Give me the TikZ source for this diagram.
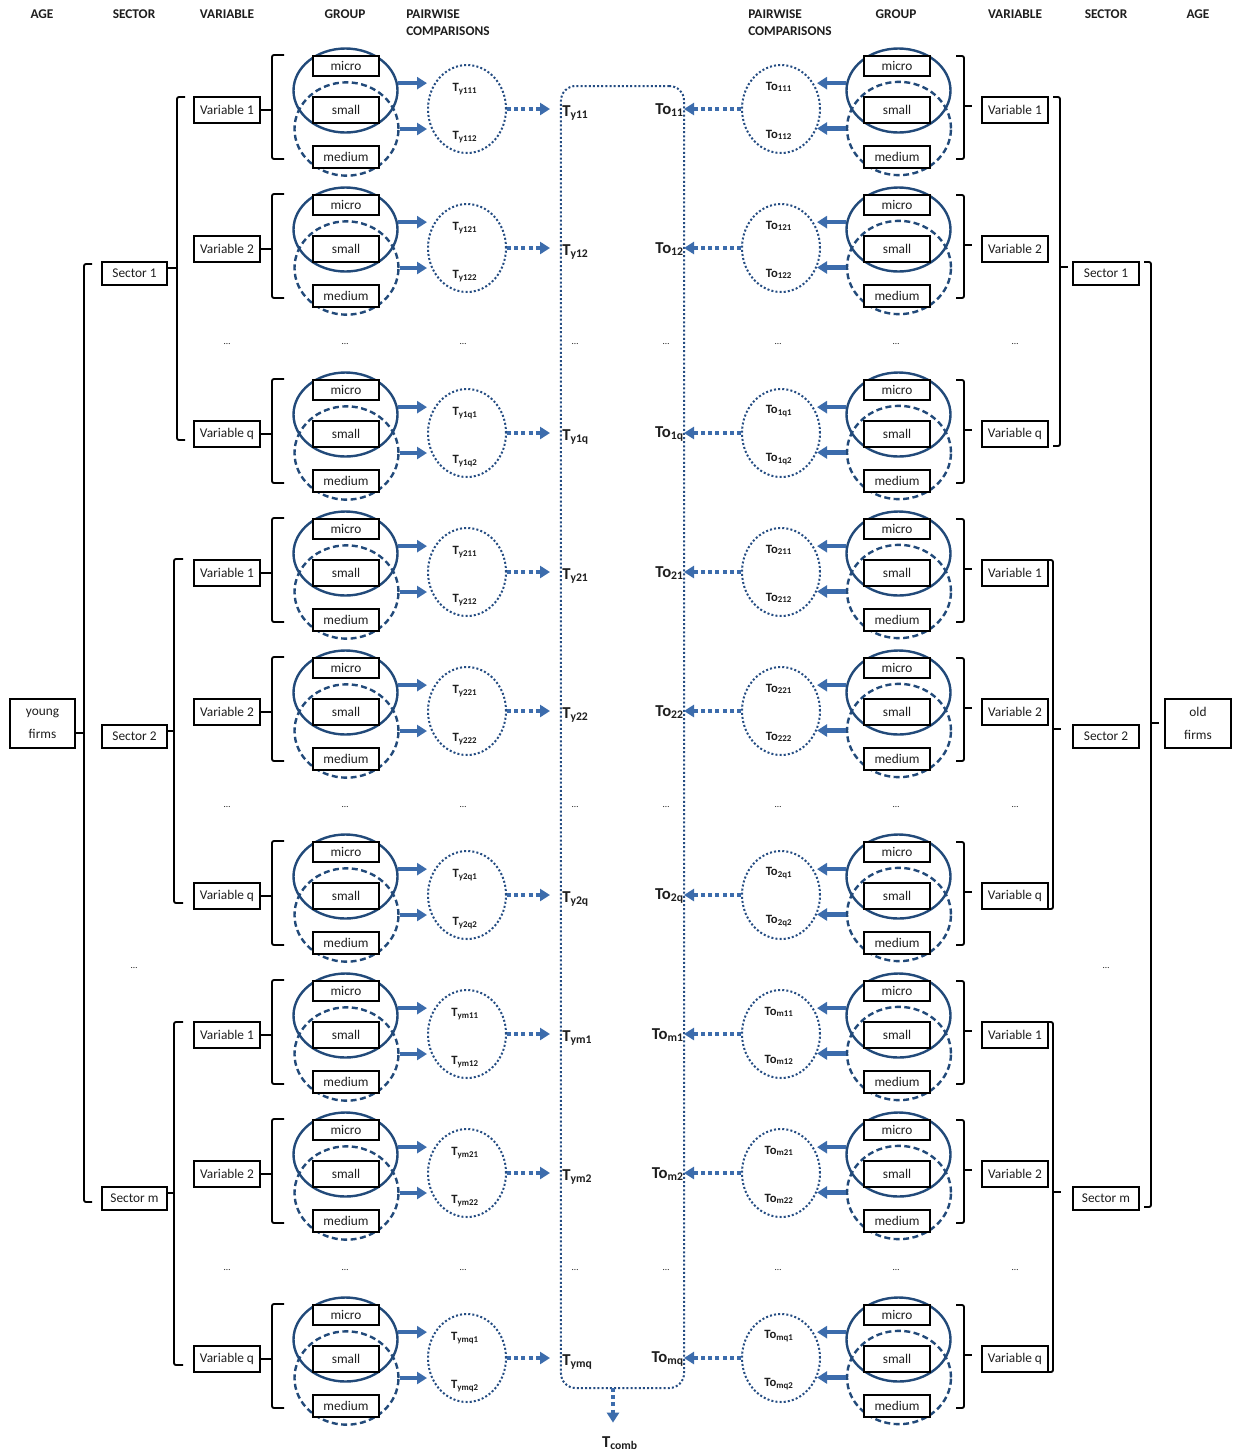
\documentclass[tikz,border=0pt]{standalone}
\usepackage{fontspec}
\setmainfont{Carlito}
\usetikzlibrary{arrows.meta,shapes.geometric,positioning}
\definecolor{ringblue}{RGB}{34,74,122}
\definecolor{arrowblue}{RGB}{60,108,172}
\definecolor{dotblue}{RGB}{36,76,130}
\definecolor{darktext}{RGB}{30,30,30}
\tikzset{
  headtext/.style={font=\fontsize{10}{12.75}\selectfont\bfseries,text=darktext,
    inner sep=0pt,align=left},
  labelbox/.style={draw=black,line width=1.4pt,fill=white,inner sep=0pt,
    minimum width=49pt,font=\fontsize{10}{12}\selectfont,text=darktext},
  varbox/.style={labelbox,minimum height=19pt},
  secbox/.style={labelbox,minimum height=17.5pt},
  agebox/.style={labelbox,minimum height=37pt,align=center,
    font=\fontsize{10}{17}\selectfont},
  grpbox/.style={labelbox,minimum height=16.5pt},
  solidring/.style={ellipse,draw=ringblue,line width=1.8pt,inner sep=0pt,
    minimum width=78pt,minimum height=63pt},
  dashring/.style={solidring,dash pattern=on 4.5pt off 2.6pt,minimum height=70pt},
  pairring/.style={ellipse,draw=dotblue,line width=1.5pt,
    dash pattern=on 1.5pt off 1.6pt,inner sep=0pt,
    minimum width=58.5pt,minimum height=66pt},
  pairlabel/.style={font=\fontsize{9.5}{10}\selectfont\bfseries,text=darktext,inner sep=0pt},
  testlabel/.style={font=\fontsize{12.5}{14}\selectfont\bfseries,text=darktext,inner sep=0pt},
  bracketline/.style={draw=black,line width=1.4pt,rounded corners=1.5pt},
  fatarrow/.style={draw=arrowblue,line width=3.2pt,-{Triangle[length=7.5pt,width=9pt]}},
  dotarrow/.style={fatarrow,dash pattern=on 3pt off 2.4pt},
  gapdots/.style={font=\fontsize{7}{8}\selectfont,text=darktext,inner sep=0pt},
}
\begin{document}
\begin{tikzpicture}[x=0.75pt,y=-0.75pt]
\useasboundingbox (0,0) rectangle (1237,1454);
\fill[white] (0,0) rectangle (1237,1454);
\node[headtext] (hage) at (42,14) {AGE};
\node[headtext] (hsec) at (134,14) {SECTOR};
\node[headtext] (hvar) at (227,14) {VARIABLE};
\node[headtext] (hgrp) at (345,14) {GROUP};
\node[headtext,anchor=north west] (hpair) at (406,9.7) {PAIRWISE\\COMPARISONS};
\node[headtext,anchor=north west] (hpairo) at (748,9.7) {PAIRWISE\\COMPARISONS};
\node[headtext] (hgrpo) at (896,14) {GROUP};
\node[headtext] (hvaro) at (1015,14) {VARIABLE};
\node[headtext] (hseco) at (1106,14) {SECTOR};
\node[headtext] (hageo) at (1198,14) {AGE};

\node[draw=dotblue,line width=1.5pt,dash pattern=on 1.5pt off 1.6pt,
      rounded corners=11pt,inner sep=0pt,minimum width=92.3pt,
      minimum height=976.5pt] (combbox) at (622.5,737) {};
\node[testlabel] (tcomb) at (620,1443) {T\textsubscript{comb}};
\coordinate (combfoot) at (613,1388);
\draw[dotarrow,shorten >=10pt] (combfoot) -- (combfoot |- tcomb.north);

\foreach \rowy/\sn/\vn [count=\i] in {110/1/1,249/1/2,434/1/q,573/2/1,712/2/2,
    896/2/q,1035/m/1,1174/m/2,1359/m/q}{
  \node[solidring] (ry\i) at (345.5,\rowy-19.5) {};
  \node[dashring] (dy\i) at (346.5,\rowy+19) {};
  \node[grpbox,minimum height=15pt] (miy\i) at (346,\rowy-44) {micro};
  \node[grpbox,minimum height=19pt] (smy\i) at (346,\rowy) {small};
  \node[grpbox] (mey\i) at (346,\rowy+47) {medium};
  \node[varbox] (vy\i) at (227,\rowy) {Variable \vn};
  \coordinate (bky\i) at (272,\rowy);
  \draw[bracketline] (284,\rowy-55) -- (272,\rowy-55) -- (272,\rowy+49) -- (284,\rowy+49);
  \draw[bracketline] (vy\i.east) -- (bky\i);
  \node[pairring] (py\i) at (467,\rowy-1) {};
  \node[pairlabel] (pya\i) at (465,\rowy-21) {T\textsubscript{y\sn\vn1}};
  \node[pairlabel] (pyb\i) at (465,\rowy+27) {T\textsubscript{y\sn\vn2}};
  \node[testlabel,anchor=west] (ty\i) at (562,\rowy+3) {T\textsubscript{y\sn\vn}};
  \draw[fatarrow] (ry\i.8) -- (ry\i.8 -| py\i.west);
  \draw[fatarrow] (dy\i.east) -- (dy\i.east -| py\i.west);
  \draw[dotarrow,shorten >=9pt] (py\i.east) -- (py\i.east -| ty\i.west);

  \node[solidring] (ro\i) at (898.5,\rowy-19.5) {};
  \node[dashring] (do\i) at (899,\rowy+18.5) {};
  \node[grpbox,minimum height=15pt] (mio\i) at (897,\rowy-44) {micro};
  \node[grpbox,minimum height=19pt] (smo\i) at (897,\rowy) {small};
  \node[grpbox] (meo\i) at (897,\rowy+47) {medium};
  \node[varbox] (vo\i) at (1015,\rowy) {Variable \vn};
  \draw[bracketline] (956,\rowy-54) -- (964,\rowy-54) -- (964,\rowy+49) -- (956,\rowy+49);
  \draw[bracketline] (964,\rowy-4) -- (972,\rowy-4);
  \node[pairring] (po\i) at (781,\rowy-1) {};
  \node[pairlabel] (poa\i) at (779,\rowy-23) {To\textsubscript{\sn\vn1}};
  \node[pairlabel] (pob\i) at (779,\rowy+25) {To\textsubscript{\sn\vn2}};
  \node[testlabel,anchor=east] (to\i) at (684,\rowy) {To\textsubscript{\sn\vn}};
  \draw[fatarrow,shorten >=-3pt] (ro\i.172) -- (ro\i.172 -| po\i.east);
  \draw[fatarrow,shorten >=-3pt] (do\i.west) -- (do\i.west -| po\i.east);
  \draw[dotarrow] (po\i.west) -- (po\i.west -| to\i.east);
}

\foreach \gx/\gn in {227/a,345/b,463/c,575/d,666/e,778/f,896/g,1015/h}
  \foreach \gy [count=\k] in {344,807,1270}
    \node[gapdots] (gap\gn\k) at (\gx,\gy) {\ldots};
\node[gapdots] (gapsy) at (134,968) {\ldots};
\node[gapdots] (gapso) at (1106,968) {\ldots};

\node[secbox] (secy1) at (134.5,273.5) {Sector 1};
\node[secbox] (secy2) at (134.5,736.5) {Sector 2};
\node[secbox] (secym) at (134.5,1198.5) {Sector m};
\draw[bracketline] (185,97) -- (177,97) -- (177,440) -- (185,440);
\draw[bracketline] (167,268) -- (177,268);
\draw[bracketline] (183,559) -- (174,559) -- (174,903) -- (183,903);
\draw[bracketline] (167,731) -- (174,731);
\draw[bracketline] (183,1022) -- (174,1022) -- (174,1365) -- (183,1365);
\draw[bracketline] (167,1193) -- (174,1193);

\node[secbox] (seco1) at (1106,273.5) {Sector 1};
\node[secbox] (seco2) at (1106,736.5) {Sector 2};
\node[secbox] (secom) at (1106,1198.5) {Sector m};
\draw[bracketline] (1053,97) -- (1060,97) -- (1060,446) -- (1053,446);
\draw[bracketline] (1060,267) -- (1068,267);
\draw[bracketline] (1047,560) -- (1053,560) -- (1053,909) -- (1047,909);
\draw[bracketline] (1053,729) -- (1061,729);
\draw[bracketline] (1047,1022) -- (1053,1022) -- (1053,1372) -- (1047,1372);
\draw[bracketline] (1053,1192) -- (1061,1192);

\node[agebox] (young) at (42.5,723.5) {young\\firms};
\node[agebox] (old) at (1198,723.5) {old\\firms};
\draw[bracketline] (92,264) -- (84,264) -- (84,1202) -- (92,1202);
\draw[bracketline] (75,733) -- (84,733);
\draw[bracketline] (1144,262) -- (1151,262) -- (1151,1207) -- (1144,1207);
\draw[bracketline] (1151,723) -- (1159,723);
\end{tikzpicture}
\end{document}
